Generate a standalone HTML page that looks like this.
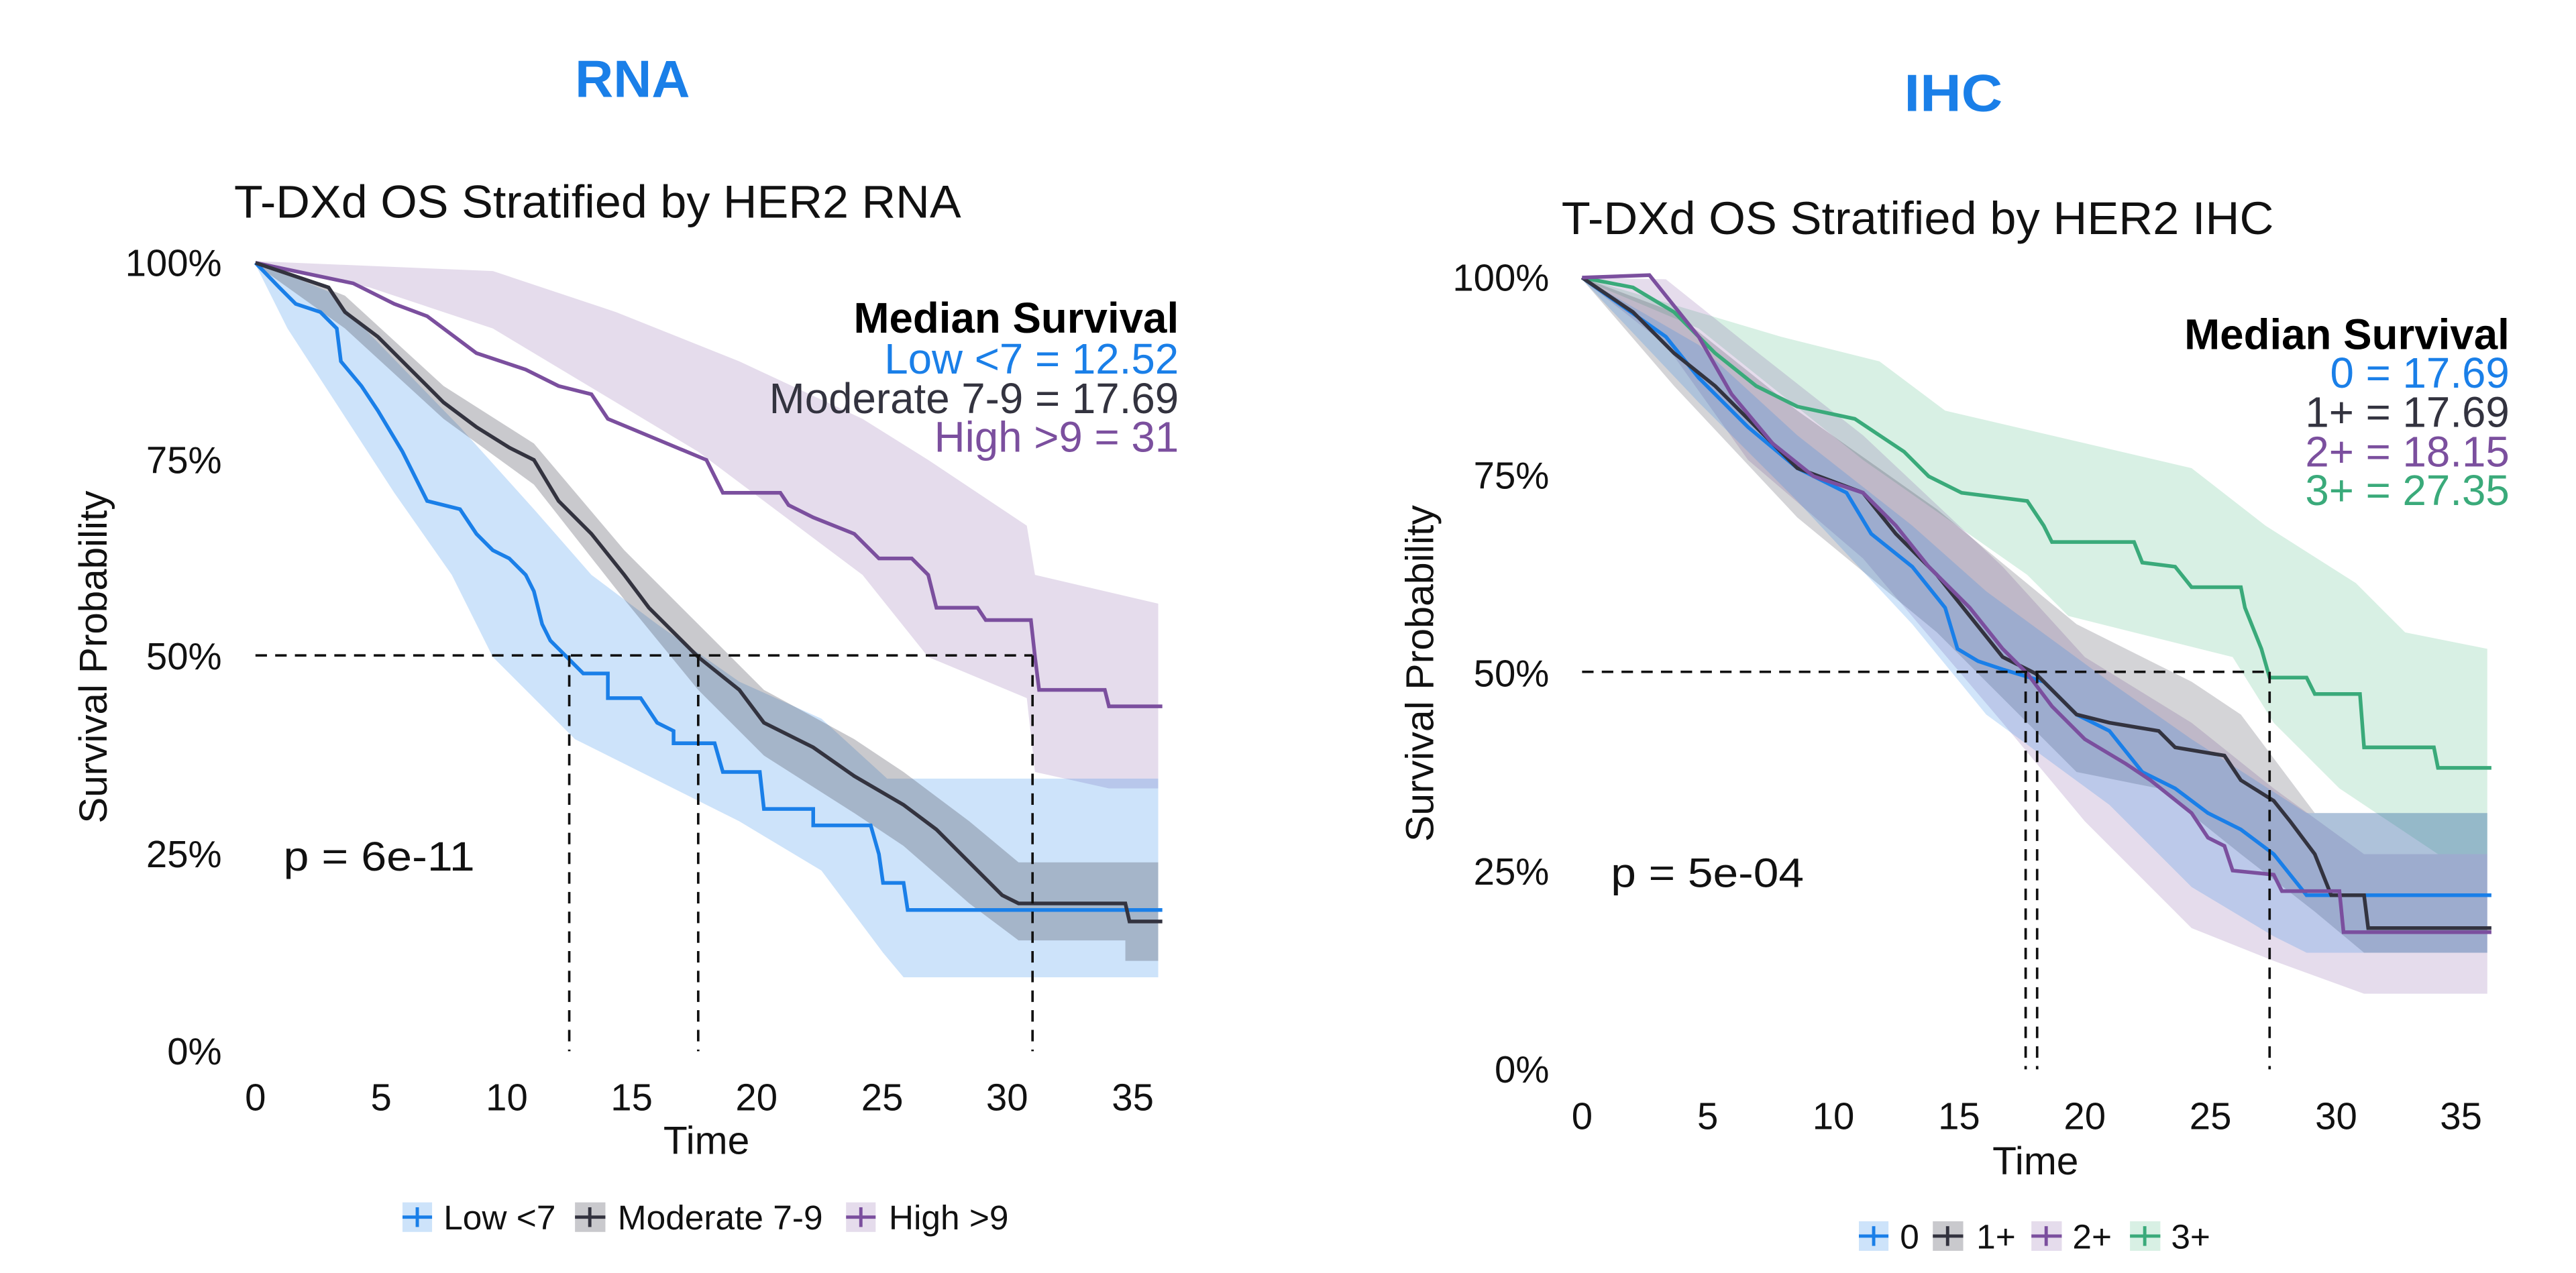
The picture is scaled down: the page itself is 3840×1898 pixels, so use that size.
<!DOCTYPE html>
<html><head><meta charset="utf-8"><style>
html,body{margin:0;padding:0;background:#fff;}
svg{display:block;}
text{font-family:"Liberation Sans",sans-serif;}
</style></head><body>
<svg width="3840" height="1898" viewBox="0 0 1568 775" preserveAspectRatio="none" xmlns="http://www.w3.org/2000/svg">
<rect width="1568" height="775" fill="#fff"/>
<!-- LEFT -->
<g transform="scale(0.5)">
<text x="770" y="118" text-anchor="middle" font-size="64" font-weight="bold" fill="#1a7fe8" textLength="140" lengthAdjust="spacingAndGlyphs">RNA</text>
<text x="285" y="265" font-size="56" fill="#111" textLength="885" lengthAdjust="spacingAndGlyphs">T-DXd OS Stratified by HER2 RNA</text>
<polygon fill="rgb(123,79,158)" fill-opacity="0.2" points="311,318 600,330 750,380 900,440 1050,510 1130,560 1250,640 1260,700 1410,735 1410,960 1350,960 1260,940 1250,850 1130,800 1050,700 850,550 600,400 450,350 311,322"/>
<polygon fill="rgb(26,127,232)" fill-opacity="0.22" points="311,318 400,355 560,520 650,620 720,700 800,760 900,830 1000,875 1080,948 1410,948 1410,1190 1100,1190 1075,1160 1000,1060 900,1000 700,900 600,800 550,700 480,600 350,400 311,322"/>
<polygon fill="rgb(60,60,75)" fill-opacity="0.28" points="311,318 420,360 540,470 650,540 760,670 850,760 930,840 1040,900 1100,940 1180,1000 1240,1050 1410,1050 1410,1170 1370,1170 1370,1145 1240,1145 1180,1100 1100,1030 1040,990 930,920 850,840 760,730 650,590 540,510 420,400 311,322"/>
<g fill="none" stroke-width="4.5">
<polyline stroke="#7b4f9e" points="311,320 430,345 480,370 520,385 540,400 580,430 640,450 680,470 720,480 740,510 800,535 860,560 870,580 880,600 950,600 960,615 990,630 1040,650 1070,680 1110,680 1130,700 1140,740 1190,740 1200,755 1255,755 1260,800 1265,840 1345,840 1350,860 1415,860"/>
<polyline stroke="#1a7fe8" points="311,320 340,350 360,370 390,380 410,400 415,440 440,470 460,500 490,550 510,590 520,610 560,620 580,650 600,670 620,680 640,700 650,720 660,760 670,780 690,800 710,820 740,820 740,850 780,850 800,880 820,890 820,905 870,905 880,940 925,940 930,985 990,985 990,1005 1060,1005 1070,1040 1075,1075 1100,1075 1105,1108 1415,1108"/>
<polyline stroke="#33333f" points="311,320 400,350 420,380 460,410 500,450 540,490 580,520 620,545 650,560 680,610 720,650 760,700 790,740 830,780 850,800 900,840 930,880 990,910 1040,945 1100,980 1140,1010 1180,1050 1220,1090 1240,1100 1370,1100 1375,1122 1415,1122"/>
</g>
<g stroke="#111" stroke-width="3" stroke-dasharray="14,10" fill="none">
<line x1="311" y1="798" x2="1257" y2="798"/>
<line x1="693" y1="798" x2="693" y2="1280"/>
<line x1="850" y1="798" x2="850" y2="1280"/>
<line x1="1257" y1="798" x2="1257" y2="1280"/>
</g>
<g font-size="46" fill="#111" text-anchor="end">
<text x="270" y="336">100%</text><text x="270" y="576">75%</text><text x="270" y="815">50%</text><text x="270" y="1056">25%</text><text x="270" y="1296">0%</text>
</g>
<g font-size="46" fill="#111" text-anchor="middle">
<text x="311" y="1352">0</text><text x="464" y="1352">5</text><text x="617" y="1352">10</text><text x="769" y="1352">15</text><text x="921" y="1352">20</text><text x="1074" y="1352">25</text><text x="1226" y="1352">30</text><text x="1379" y="1352">35</text>
<text x="860" y="1405" font-size="48">Time</text>
</g>
<text transform="translate(130,800) rotate(-90)" text-anchor="middle" font-size="48" fill="#111" textLength="405" lengthAdjust="spacingAndGlyphs">Survival Probability</text>
<text x="345" y="1060" font-size="50" fill="#111" textLength="233" lengthAdjust="spacingAndGlyphs">p = 6e-11</text>
<g text-anchor="end" font-size="52">
<text x="1435" y="405" font-weight="bold" fill="#000">Median Survival</text>
<text x="1435" y="455" fill="#1a7fe8">Low &lt;7 = 12.52</text>
<text x="1435" y="503" fill="#33333f">Moderate 7-9 = 17.69</text>
<text x="1435" y="550" fill="#7b4f9e">High &gt;9 = 31</text>
</g>
<g font-size="42" fill="#111">
<rect x="490" y="1464" width="36" height="36" fill="rgb(26,127,232)" fill-opacity="0.22"/><line x1="490" y1="1482" x2="526" y2="1482" stroke="#1a7fe8" stroke-width="4"/><line x1="508" y1="1470" x2="508" y2="1494" stroke="#1a7fe8" stroke-width="4"/>
<text x="540" y="1497">Low &lt;7</text>
<rect x="700" y="1464" width="37" height="36" fill="rgb(60,60,75)" fill-opacity="0.28"/><line x1="700" y1="1482" x2="737" y2="1482" stroke="#33333f" stroke-width="4"/><line x1="718" y1="1470" x2="718" y2="1494" stroke="#33333f" stroke-width="4"/>
<text x="752" y="1497">Moderate 7-9</text>
<rect x="1030" y="1464" width="36" height="36" fill="rgb(123,79,158)" fill-opacity="0.2"/><line x1="1030" y1="1482" x2="1066" y2="1482" stroke="#7b4f9e" stroke-width="4"/><line x1="1048" y1="1470" x2="1048" y2="1494" stroke="#7b4f9e" stroke-width="4"/>
<text x="1082" y="1497">High &gt;9</text>
</g>
</g>
<!-- RIGHT -->
<g transform="translate(784,0) scale(0.5)">
<text x="810" y="135" text-anchor="middle" font-size="64" font-weight="bold" fill="#1a7fe8" font-family="DejaVu Sans Mono, monospace" textLength="120" lengthAdjust="spacingAndGlyphs">IHC</text>
<text x="333" y="285" font-size="56" fill="#111" textLength="867" lengthAdjust="spacingAndGlyphs">T-DXd OS Stratified by HER2 IHC</text>
<polygon fill="rgb(60,180,120)" fill-opacity="0.2" points="358,338 600,410 720,440 800,500 1100,570 1190,640 1300,710 1360,770 1460,790 1460,1040 1400,1040 1280,960 1200,880 1150,800 950,750 900,700 700,560 500,400 358,340"/>
<polygon fill="rgb(123,79,158)" fill-opacity="0.2" points="358,338 460,340 560,420 700,530 870,690 970,800 1100,880 1200,960 1310,1040 1460,1040 1460,1210 1310,1210 1200,1170 1100,1130 970,1000 870,880 700,680 560,560 460,420 358,340"/>
<polygon fill="rgb(60,60,75)" fill-opacity="0.22" points="358,338 470,380 620,500 790,620 960,760 1100,830 1160,870 1250,990 1460,990 1460,1160 1310,1160 1250,1110 1160,1040 1060,960 960,940 790,770 620,630 470,470 358,340"/>
<polygon fill="rgb(26,127,232)" fill-opacity="0.2" points="358,338 500,420 620,530 760,640 850,720 1000,830 1100,900 1240,990 1460,990 1460,1160 1240,1160 1200,1140 1100,1080 1000,980 850,870 760,760 620,610 500,490 358,340"/>
<g fill="none" stroke-width="4.5">
<polyline stroke="#3aaa7a" points="358,338 420,350 470,380 520,430 570,470 620,495 690,510 720,530 750,550 780,580 820,600 900,610 920,640 930,660 1030,660 1040,685 1080,690 1100,715 1160,715 1165,740 1185,790 1195,825 1240,825 1250,845 1305,845 1310,910 1395,910 1400,935 1465,935"/>
<polyline stroke="#1a7fe8" points="358,338 460,410 500,460 560,520 620,570 680,600 710,650 760,690 800,740 815,790 840,805 870,815 920,830 960,870 1000,890 1040,940 1080,960 1120,990 1160,1010 1200,1040 1240,1090 1465,1090"/>
<polyline stroke="#33333f" points="358,338 420,380 470,430 520,470 580,530 620,570 700,600 740,650 790,700 830,750 870,800 910,820 960,870 1000,880 1060,890 1080,910 1140,920 1160,950 1200,975 1220,1000 1250,1040 1270,1090 1310,1090 1315,1130 1465,1130"/>
<polyline stroke="#7b4f9e" points="358,338 440,335 460,360 500,410 540,480 590,540 640,580 700,600 740,640 780,690 830,740 870,790 900,820 930,860 970,900 1020,930 1050,950 1100,990 1120,1020 1140,1030 1150,1060 1200,1065 1210,1085 1280,1085 1285,1135 1465,1135"/>
</g>
<g stroke="#111" stroke-width="3" stroke-dasharray="14,10" fill="none">
<line x1="358" y1="818" x2="1195" y2="818"/>
<line x1="898" y1="818" x2="898" y2="1302"/>
<line x1="912" y1="818" x2="912" y2="1302"/>
<line x1="1195" y1="818" x2="1195" y2="1302"/>
</g>
<g font-size="46" fill="#111" text-anchor="end">
<text x="318" y="354">100%</text><text x="318" y="595">75%</text><text x="318" y="836">50%</text><text x="318" y="1077">25%</text><text x="318" y="1318">0%</text>
</g>
<g font-size="46" fill="#111" text-anchor="middle">
<text x="358" y="1375">0</text><text x="511" y="1375">5</text><text x="664" y="1375">10</text><text x="817" y="1375">15</text><text x="970" y="1375">20</text><text x="1123" y="1375">25</text><text x="1276" y="1375">30</text><text x="1428" y="1375">35</text>
<text x="910" y="1430" font-size="48">Time</text>
</g>
<text transform="translate(177,820) rotate(-90)" text-anchor="middle" font-size="48" fill="#111" textLength="410" lengthAdjust="spacingAndGlyphs">Survival Probability</text>
<text x="393" y="1080" font-size="50" fill="#111" textLength="235" lengthAdjust="spacingAndGlyphs">p = 5e-04</text>
<g text-anchor="end" font-size="52">
<text x="1487" y="425" font-weight="bold" fill="#000">Median Survival</text>
<text x="1487" y="472" fill="#1a7fe8">0 = 17.69</text>
<text x="1487" y="520" fill="#33333f">1+ = 17.69</text>
<text x="1487" y="568" fill="#7b4f9e">2+ = 18.15</text>
<text x="1487" y="615" fill="#3aaa7a">3+ = 27.35</text>
</g>
<g font-size="42" fill="#111">
<rect x="695" y="1487" width="36" height="36" fill="rgb(26,127,232)" fill-opacity="0.22"/><line x1="695" y1="1505" x2="731" y2="1505" stroke="#1a7fe8" stroke-width="4"/><line x1="713" y1="1493" x2="713" y2="1517" stroke="#1a7fe8" stroke-width="4"/>
<text x="745" y="1520">0</text>
<rect x="785" y="1487" width="37" height="36" fill="rgb(60,60,75)" fill-opacity="0.28"/><line x1="785" y1="1505" x2="822" y2="1505" stroke="#33333f" stroke-width="4"/><line x1="803" y1="1493" x2="803" y2="1517" stroke="#33333f" stroke-width="4"/>
<text x="838" y="1520">1+</text>
<rect x="905" y="1487" width="37" height="36" fill="rgb(123,79,158)" fill-opacity="0.2"/><line x1="905" y1="1505" x2="942" y2="1505" stroke="#7b4f9e" stroke-width="4"/><line x1="923" y1="1493" x2="923" y2="1517" stroke="#7b4f9e" stroke-width="4"/>
<text x="955" y="1520">2+</text>
<rect x="1025" y="1487" width="37" height="36" fill="rgb(60,180,120)" fill-opacity="0.2"/><line x1="1025" y1="1505" x2="1062" y2="1505" stroke="#3aaa7a" stroke-width="4"/><line x1="1043" y1="1493" x2="1043" y2="1517" stroke="#3aaa7a" stroke-width="4"/>
<text x="1075" y="1520">3+</text>
</g>
</g>
</svg>
</body></html>
